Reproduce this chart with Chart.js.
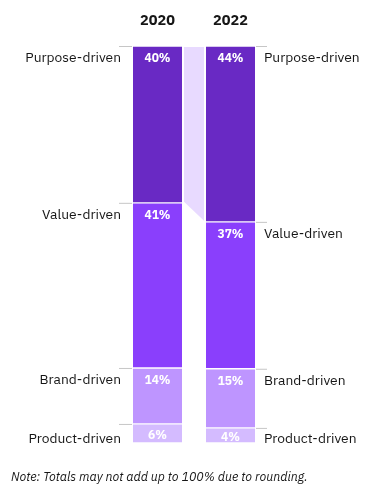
<!DOCTYPE html>
<html><head><meta charset="utf-8">
<script src="https://cdn.jsdelivr.net/npm/chart.js@4.4.1/dist/chart.umd.min.js"></script>
<style>html,body{margin:0;padding:0;background:#fff}#wrap{width:385px;height:500px;position:relative}</style>
</head><body><div id="wrap"><canvas id="c" width="385" height="500"></canvas></div>
<script>
const years = ['2020', '2022'];
const categories = ['Purpose-driven', 'Value-driven', 'Brand-driven', 'Product-driven'];
// printed labels
const labels2020 = [40, 41, 14, 6];
const labels2022 = [44, 37, 15, 4];
// segment shares as drawn
const share2020 = [39.5, 41.6, 14.1, 4.8];
const share2022 = [44.3, 37.0, 14.9, 3.8];
const note = 'Note: Totals may not add up to 100% due to rounding.';

const colors = ['#6929c4', '#8a3ffc', '#be95ff', '#d4bbff'];
const FONT = '"IBM Plex Sans", "Noto Sans", sans-serif';
const shares = [share2020, share2022];
const printed = [labels2020, labels2022];

const datasets = categories.map((cat, i) => ({
  label: cat,
  data: shares.map(s => s[i]),
  raw: printed.map(s => s[i]),
  backgroundColor: colors[i],
  borderColor: '#ffffff',
  borderWidth: {top: 1, bottom: 1, left: 0, right: 0},
  borderSkipped: false,
  barThickness: 49
}));

const deco = {
  id: 'deco',
  beforeDatasetsDraw(chart) {
    const ctx = chart.ctx;
    const m = chart.getDatasetMeta(0);
    const a = m.data[0], b = m.data[1];
    const aTop = Math.min(a.y, a.base), aBot = Math.max(a.y, a.base);
    const bTop = Math.min(b.y, b.base), bBot = Math.max(b.y, b.base);
    const x1 = a.x + a.width / 2 + 2, x2 = b.x - b.width / 2 - 2;
    ctx.save();
    ctx.fillStyle = '#e8daff';
    ctx.beginPath();
    ctx.moveTo(x1, aTop + 1);
    ctx.lineTo(x2, bTop + 1);
    ctx.lineTo(x2, bBot - 1);
    ctx.lineTo(x1, aBot - 1);
    ctx.closePath();
    ctx.fill();
    ctx.restore();
  },
  afterDatasetsDraw(chart) {
    const ctx = chart.ctx;
    ctx.save();
    const m0 = chart.getDatasetMeta(0);
    ctx.fillStyle = '#161616';
    ctx.font = 'bold 14.5px ' + FONT;
    ctx.textAlign = 'center';
    ctx.textBaseline = 'middle';
    years.forEach((y, j) => ctx.fillText(y, m0.data[j].x, 21));
    chart.data.datasets.forEach((ds, i) => {
      const meta = chart.getDatasetMeta(i);
      meta.data.forEach((el, j) => {
        const top = Math.min(el.y, el.base), bot = Math.max(el.y, el.base);
        const left = el.x - el.width / 2, right = el.x + el.width / 2;
        ctx.strokeStyle = '#c6c6c6';
        ctx.lineWidth = 1;
        ctx.beginPath();
        if (j === 0) { ctx.moveTo(left - 14, top + 0.5); ctx.lineTo(left - 1, top + 0.5); }
        else { ctx.moveTo(right + 1, top + 0.5); ctx.lineTo(right + 12, top + 0.5); }
        ctx.stroke();
        ctx.fillStyle = '#ffffff';
        ctx.font = 'bold 12px ' + FONT;
        ctx.textAlign = 'center';
        ctx.fillText(ds.raw[j] + '%', el.x, Math.min(top + 13, (top + bot) / 2 + 2));
        ctx.fillStyle = '#161616';
        ctx.font = '13.8px ' + FONT;
        const ly = (bot - top) < 30 ? bot - 4 : top + 12;
        if (j === 0) { ctx.textAlign = 'right'; ctx.fillText(ds.label, left - 12, ly); }
        else { ctx.textAlign = 'left'; ctx.fillText(ds.label, right + 9, ly); }
      });
    });
    ctx.fillStyle = '#161616';
    ctx.font = 'italic 12.4px ' + FONT;
    ctx.textAlign = 'left';
    ctx.fillText(note, 11, 477);
    ctx.restore();
  }
};

new Chart(document.getElementById('c'), {
  type: 'bar',
  data: {labels: years, datasets},
  options: {
    responsive: false,
    animation: false,
    layout: {padding: {left: 121, right: 118, top: 46, bottom: 57}},
    plugins: {legend: {display: false}, tooltip: {enabled: false}},
    scales: {
      x: {display: false, stacked: true},
      y: {display: false, stacked: true, min: 0, max: 100, reverse: true}
    }
  },
  plugins: [deco]
});
</script></body></html>
